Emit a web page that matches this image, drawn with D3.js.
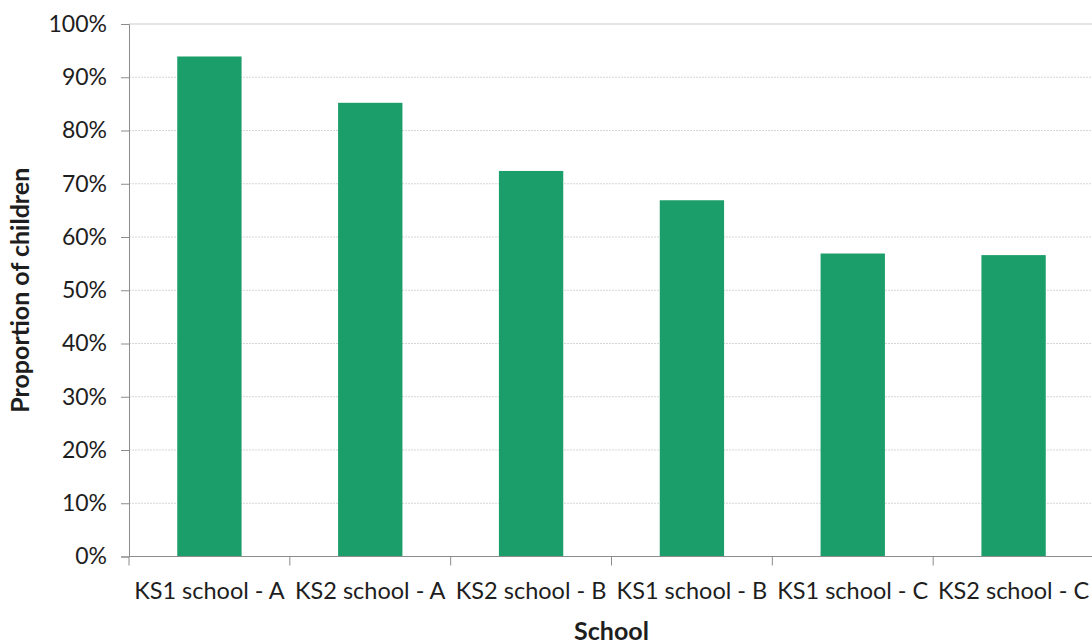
<!DOCTYPE html>
<html>
<head>
<meta charset="utf-8">
<script src="https://cdn.jsdelivr.net/npm/d3@7"></script>
<style>
  html, body { margin: 0; padding: 0; background: #fff; }
  svg { display: block; }
  text { font-family: Lato, "Open Sans", sans-serif; fill: #1e1e1e; }
</style>
</head>
<body>
<svg id="chart" width="1092" height="644"></svg>
<script>
// Share of children per school
const schools = ["KS1 school - A", "KS2 school - A", "KS2 school - B", "KS1 school - B", "KS1 school - C", "KS2 school - C"];
const proportions = [0.939, 0.852, 0.724, 0.669, 0.569, 0.566];
const yTicks = [0, 0.1, 0.2, 0.3, 0.4, 0.5, 0.6, 0.7, 0.8, 0.9, 1.0];

const svg = d3.select("#chart");
const plotLeft = 129, plotRight = 1094, plotTop = 24, plotBottom = 556.5;

const x = d3.scaleBand().domain(schools).range([plotLeft, plotRight])
  .paddingInner(0.6).paddingOuter(0.3);
const y = d3.scaleLinear().domain([0, 1]).range([plotBottom, plotTop]);
const step = x.step();

// gridlines
svg.append("g").selectAll("line").data(yTicks.filter(d => d > 0)).join("line")
  .attr("x1", plotLeft).attr("x2", 1092)
  .attr("y1", d => y(d)).attr("y2", d => y(d))
  .attr("stroke", d => d === 1 ? "#dcdcdc" : "#d6d6d6")
  .attr("stroke-width", d => d === 1 ? 1.5 : 1)
  .attr("stroke-dasharray", d => d === 1 ? null : "2,1");

// bars
svg.append("g").selectAll("rect").data(schools).join("rect")
  .attr("x", d => x(d)).attr("width", x.bandwidth())
  .attr("y", (d, i) => y(proportions[i]))
  .attr("height", (d, i) => plotBottom - y(proportions[i]))
  .attr("fill", "#1c9e6a");

// y axis
const yAxis = svg.append("g").attr("transform", `translate(${plotLeft},0)`)
  .call(d3.axisLeft(y).tickValues(yTicks).tickFormat(d3.format(".0%")).tickSize(8).tickPadding(14));
yAxis.select(".domain").attr("stroke", "#8c8c8c");
yAxis.selectAll(".tick line").attr("stroke", "#8c8c8c");
yAxis.selectAll(".tick text").attr("font-size", 23).attr("fill", "#1e1e1e")
  .style("font-family", "Lato, 'Open Sans', sans-serif");

// x axis: baseline, boundary ticks and centred labels
const xg = svg.append("g");
xg.append("line").attr("x1", plotLeft).attr("x2", 1092).attr("y1", plotBottom).attr("y2", plotBottom)
  .attr("stroke", "#8c8c8c");
const boundaries = d3.range(schools.length + 1).map(i => plotLeft + i * step);
xg.selectAll("line.tk").data(boundaries).join("line").attr("class", "tk")
  .attr("x1", d => d).attr("x2", d => d).attr("y1", plotBottom).attr("y2", plotBottom + 9)
  .attr("stroke", "#8c8c8c");
xg.selectAll("text").data(schools).join("text")
  .attr("x", d => x(d) + x.bandwidth() / 2).attr("y", 599)
  .attr("text-anchor", "middle").attr("font-size", 23.5)
  .text(d => d);

// axis titles
svg.append("text").attr("x", (plotLeft + plotRight) / 2).attr("y", 640)
  .attr("text-anchor", "middle").attr("font-size", 25).attr("font-weight", "bold")
  .text("School");
svg.append("text").attr("transform", `translate(29,${(plotTop + plotBottom) / 2}) rotate(-90)`)
  .attr("text-anchor", "middle").attr("font-size", 25).attr("font-weight", "bold")
  .text("Proportion of children");
</script>
</body>
</html>
